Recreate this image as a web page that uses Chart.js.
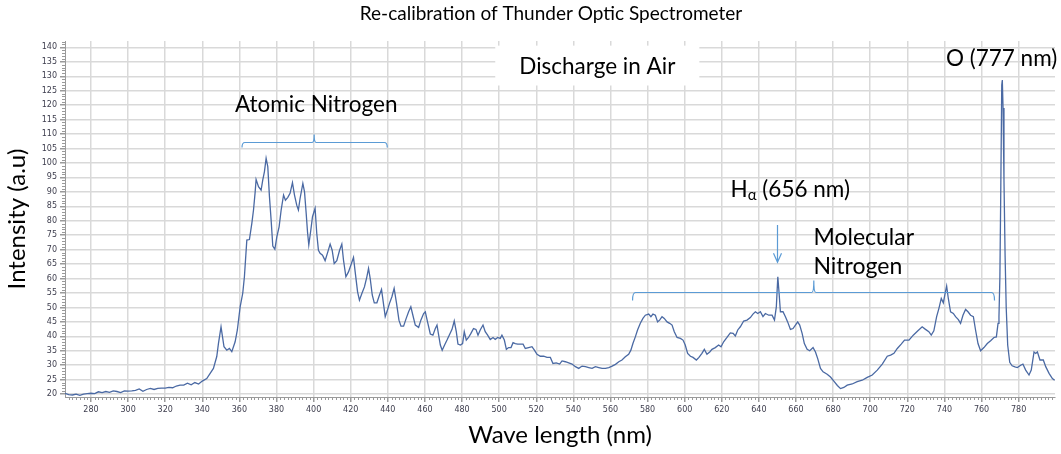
<!DOCTYPE html>
<html>
<head>
<meta charset="utf-8">
<script src="https://cdn.jsdelivr.net/npm/chart.js@4.4.1/dist/chart.umd.min.js"></script>
<style>
  html, body { margin: 0; padding: 0; background: #fff; }
</style>
</head>
<body>
<canvas id="chart" width="1061" height="454"></canvas>
<script>
// wavelength (nm)
var wavelength = [
  266,268,270,272,274,276,278,280,282,284,286,288,290,292,294,296,298,300,302,304,
  306,308,310,312,314,316,318,320,322,324,326,328,330,332,334,336,338,340,342.4,346,
  347.8,348.7,350.1,351.7,353.2,354.6,355.9,357.7,358.9,360.4,361.8,362.7,364,365.4,366.7,367.6,368.5,369,370.3,371.7,
  372.6,373.5,374.4,375.3,376.2,377.1,378,379.1,380.2,381.4,382.5,383.8,384.8,386.1,387.3,388.6,389.7,390.9,391.8,392.7,
  394.2,395.1,396,396.7,397.4,398.5,399.4,400.8,401.7,402.6,403.5,404.8,406.2,407.7,408.9,410,411.1,412.5,414,415.2,
  416.1,417.4,418.8,420.1,421.5,422.4,423.7,424.7,426,427.4,428.7,429.6,430.5,431.6,432.7,434.1,435.5,436.6,437.5,438.6,
  439.8,440.9,442.2,443.4,444.7,446,447.1,448.5,449.9,451.2,452.4,453.5,454.8,456.6,457.8,459.3,460.2,461.4,462.9,464.3,
  465.6,466.5,467.4,468.3,469.3,470.6,471.9,473.1,474.6,475.8,476.9,477.8,479.1,480.3,481.2,482.3,483.5,484.8,486.2,487.5,
  488.6,489.8,491.3,492.5,493.8,495.2,496.7,497.9,499.2,500.6,501.5,502.8,503.9,505.1,506.4,507.5,508.7,510,511.4,512.9,
  514.1,515.9,517.7,519,520.4,522.2,524,525.8,527.6,529,530.8,532.6,533.9,535.7,537.5,539.3,541.1,542.9,544.7,546.5,
  548.3,550.1,551.9,553.7,555.5,557.3,559.1,560.9,562.7,564.5,566.2,568,569.8,571,572.1,573.4,574.6,576.1,577.5,578.8,
  580.6,581.8,582.9,584.2,585.4,586.5,587.8,589,590.5,591.9,593.2,594.4,595.9,597.7,599.1,600.3,601.6,603.1,604.5,606.3,
  607.7,609.3,610.6,612,613.5,614.7,616.5,618.3,619.6,621,622.8,624.6,626.1,627.3,628.6,630,631.8,633.6,635.4,636.8,
  638.1,639.4,640.8,642.2,643.5,645.3,647.1,648.4,649.4,650.2,650.9,651.6,653,654.3,655.5,657,658.4,659.7,660.9,662,
  663.3,664.5,666,667.4,669.2,670.5,671.7,673.2,674.6,676.8,678.6,680.4,682.3,684,685.8,687.6,690.3,693,695.7,698.4,
  701.1,703.8,706.5,709.2,711,712.8,714.6,716.7,718.5,720.9,723.2,725.7,728,729.8,731.6,732.9,734.3,735.8,737,738.3,
  739.4,740.3,741.2,742.1,743.3,744.8,746,747.5,748.7,750,751.4,752.7,754.1,755.6,756.8,758.1,759.5,761.3,763.1,764.9,
  766.7,768,768.9,769.4,769.9,770.4,770.9,771.2,771.6,772.1,772.7,773.3,774.1,775.2,776.5,778,779.3,781.1,782.3,783.8,
  785.6,786.8,788.3,789.2,790.1,791.5,793.3,794.6,796.4,798.2,799.4
];

// intensity (a.u) at each wavelength
var intensity = [
  20.3,19.8,19.7,20.0,19.6,20.0,20.2,20.3,20.2,20.8,20.5,20.9,20.6,21.1,20.9,20.5,21.1,21.0,21.1,21.3,
  21.8,21.0,21.6,22.0,21.6,22.0,22.1,22.1,22.3,22.2,22.8,23.1,23.1,23.8,23.2,24.0,23.5,24.5,25.4,28.9,
  33.0,37.5,43.3,36.4,35.2,35.8,34.7,38.1,42.2,50.2,54.9,60.6,73.3,73.5,79.1,83.7,90.0,94.3,91.8,90.6,
  94.1,97.0,101.6,98.7,88.3,80.2,71.2,70.1,74.5,77.9,83.7,88.9,87.1,88.1,89.5,93.2,88.9,85.4,83.7,87.7,
  92.9,90.0,82.5,76.2,71.6,76.8,81.4,84.3,75.6,69.8,68.7,68.1,66.2,69.3,71.9,69.8,65.2,66.2,69.8,71.9,
  66.4,60.6,62.3,64.7,67.3,62.3,55.4,52.5,54.8,57.1,60.6,63.5,60.0,54.3,51.6,51.6,54.3,56.2,52.0,46.8,
  49.1,51.4,53.7,56.6,51.4,45.6,43.5,43.5,46.2,48.5,50.2,47.3,43.9,43.1,45.6,47.9,48.5,45.0,40.8,40.4,
  42.7,43.9,40.4,37.0,35.2,37.0,38.7,40.4,42.4,45.3,41.6,37.3,37.0,37.5,41.6,38.7,39.6,41.0,42.7,42.4,
  40.4,42.2,43.9,41.6,40.4,38.9,39.6,38.9,39.6,39.3,40.4,38.7,35.5,36.1,36.1,37.8,37.5,37.3,37.3,37.3,
  35.8,36.1,36.4,35.2,33.8,33.1,33.1,32.7,32.7,30.6,30.8,30.4,31.5,31.2,30.8,30.4,29.5,28.9,29.7,29.5,
  29.2,28.9,29.5,29.2,28.9,28.9,29.2,29.7,30.3,31.2,31.8,32.9,33.8,35.2,37.5,39.8,42.2,44.5,46.2,47.3,
  47.7,46.8,47.7,47.3,45.0,45.6,46.8,46.2,45.0,44.5,43.9,41.6,39.6,39.3,38.7,37.0,34.1,33.1,32.7,31.8,
  32.7,34.1,35.5,33.8,34.6,35.5,36.1,37.0,36.4,38.1,39.6,41.2,41.0,40.1,42.2,43.3,45.3,45.6,46.5,47.7,
  48.5,47.9,48.5,46.8,47.9,47.3,47.3,45.6,50.2,60.6,54.8,48.5,48.5,46.8,45.0,42.4,42.7,43.9,45.0,43.9,
  41.0,37.5,35.5,35.0,36.1,34.6,32.3,28.9,27.7,26.9,25.9,24.5,23.0,21.9,22.3,23.1,23.5,24.3,24.8,25.8,
  26.6,28.3,30.4,33.1,33.5,34.1,35.8,37.3,38.7,38.7,40.4,41.9,43.3,42.4,41.6,40.4,41.9,46.8,49.6,53.1,
  51.6,54.6,57.4,53.1,48.5,47.9,46.8,45.8,44.5,47.3,49.3,48.5,47.3,46.8,42.1,37.5,35.0,36.1,37.5,38.5,
  39.6,39.8,44.5,46.8,60.6,92.0,127.0,128.7,119.0,94.0,68.0,50.0,37.0,31.0,29.8,29.4,29.2,30.0,30.4,28.3,
  26.6,28.3,34.6,34.1,34.6,31.8,31.8,29.5,27.2,25.4,24.8
];

var xTicks = [280,300,320,340,360,380,400,420,440,460,480,500,520,540,560,580,600,620,640,660,680,700,720,740,760,780];
var yTicks = [20,25,30,35,40,45,50,55,60,65,70,75,80,85,90,95,100,105,110,115,120,125,130,135,140];

var points = wavelength.map(function (w, i) { return { x: w, y: intensity[i] }; });

var textFont = 'Lato, "Open Sans", sans-serif';
var noteBlue = '#5b9bd5';

// brackets / notes placed in data units (nm, a.u)
var atomicBracket = { from: 361.4, to: 439.7, mid: 400.3, at: 107.1, hook: 5, rise: 8 };
var molecularBracket = { from: 571.9, to: 767.0, mid: 669.6, at: 55.2, hook: 8, rise: 12 };
var alphaArrow = { at: 650.0, top: 78.5, tip: 65.6 };

var minorTicks = {
  id: 'minorTicks',
  afterDraw: function (chart) {
    var ctx = chart.ctx, a = chart.chartArea;
    var xs = chart.scales.x, ys = chart.scales.y;
    ctx.save();
    ctx.strokeStyle = '#9a9a9a';
    ctx.lineWidth = 1;
    ctx.beginPath();
    for (var v = 20; v <= 142; v++) {
      if (v % 5 === 0) continue;
      var py = Math.round(ys.getPixelForValue(v)) + 0.5;
      ctx.moveTo(a.left - 3, py); ctx.lineTo(a.left, py);
    }
    for (var w = 268; w <= 798; w += 2) {
      if (w % 20 === 0) continue;
      var px = Math.round(xs.getPixelForValue(w)) + 0.5;
      ctx.moveTo(px, a.bottom); ctx.lineTo(px, a.bottom + 3);
    }
    ctx.stroke();
    ctx.restore();
  }
};

function drawBracket(ctx, xs, ys, b) {
  var l = xs.getPixelForValue(b.from), r = xs.getPixelForValue(b.to);
  var m = xs.getPixelForValue(b.mid), py = Math.round(ys.getPixelForValue(b.at)) + 0.5;
  ctx.beginPath();
  ctx.moveTo(l, py + b.hook);
  ctx.quadraticCurveTo(l, py, l + 3, py);
  ctx.lineTo(m - 2, py);
  ctx.quadraticCurveTo(m, py, m, py - b.rise);
  ctx.quadraticCurveTo(m, py, m + 2, py);
  ctx.lineTo(r - 3, py);
  ctx.quadraticCurveTo(r, py, r, py + b.hook);
  ctx.stroke();
}

var notes = {
  id: 'notes',
  afterDraw: function (chart) {
    var ctx = chart.ctx;
    var xs = chart.scales.x, ys = chart.scales.y;
    ctx.save();

    // chart title
    ctx.fillStyle = '#000';
    ctx.textBaseline = 'middle';
    ctx.textAlign = 'center';
    ctx.font = '19px ' + textFont;
    ctx.fillText('Re-calibration of Thunder Optic Spectrometer', 551, 14);

    // white box behind "Discharge in Air"
    var bx0 = xs.getPixelForValue(497.9), bx1 = xs.getPixelForValue(607.9);
    var by0 = ys.getPixelForValue(140.6), by1 = ys.getPixelForValue(126.8);
    ctx.fillStyle = '#ffffff';
    ctx.fillRect(bx0, by0, bx1 - bx0, by1 - by0);

    ctx.fillStyle = '#000';
    ctx.font = '22.5px ' + textFont;
    ctx.fillText('Discharge in Air', xs.getPixelForValue(552.9), ys.getPixelForValue(133.4));
    ctx.fillText('Atomic Nitrogen', xs.getPixelForValue(401.4), ys.getPixelForValue(120.0));
    ctx.fillText('O (777 nm)', xs.getPixelForValue(770.8), ys.getPixelForValue(136.0));

    ctx.textAlign = 'left';
    ctx.font = '23px ' + textFont;
    ctx.fillText('Molecular', xs.getPixelForValue(669.4), ys.getPixelForValue(74.3));
    ctx.fillText('Nitrogen', xs.getPixelForValue(669.4), ys.getPixelForValue(64.0));

    // H alpha with subscript
    var hx = xs.getPixelForValue(624.7), hy = ys.getPixelForValue(90.6);
    ctx.font = '22.5px ' + textFont;
    ctx.fillText('H', hx, hy);
    hx += ctx.measureText('H').width;
    ctx.font = '15px ' + textFont;
    ctx.fillText('\u03b1', hx, hy + 5);
    hx += ctx.measureText('\u03b1').width;
    ctx.font = '22.5px ' + textFont;
    ctx.fillText(' (656 nm)', hx, hy);

    ctx.strokeStyle = noteBlue;
    ctx.lineWidth = 1.2;
    drawBracket(ctx, xs, ys, atomicBracket);
    drawBracket(ctx, xs, ys, molecularBracket);

    // arrow pointing at H alpha line
    var ax = Math.round(xs.getPixelForValue(alphaArrow.at)) + 0.5;
    var at = ys.getPixelForValue(alphaArrow.top), ab = ys.getPixelForValue(alphaArrow.tip);
    ctx.beginPath();
    ctx.moveTo(ax, at); ctx.lineTo(ax, ab);
    ctx.moveTo(ax - 4, ab - 9); ctx.lineTo(ax, ab); ctx.lineTo(ax + 4, ab - 9);
    ctx.stroke();

    ctx.restore();
  }
};

var config = {
  type: 'line',
  data: {
    datasets: [{
      data: points,
      borderColor: '#4a69a3',
      borderWidth: 1.3,
      pointRadius: 0,
      tension: 0,
      fill: false
    }]
  },
  options: {
    responsive: false,
    animation: false,
    devicePixelRatio: 1,
    layout: { padding: { left: 0, right: 6, top: 41, bottom: 0 } },
    plugins: {
      legend: { display: false },
      tooltip: { enabled: false },
      title: { display: false }
    },
    scales: {
      x: {
        type: 'linear',
        min: 266,
        max: 799.6,
        afterBuildTicks: function (s) { s.ticks = xTicks.map(function (v) { return { value: v }; }); },
        afterFit: function (s) { s.height = 57; },
        grid: { color: '#d9d9d9', lineWidth: 1.5, tickLength: 5, tickColor: '#9a9a9a' },
        border: { color: '#9a9a9a', width: 1 },
        ticks: { color: '#3d3d4d', font: { family: 'DejaVu Sans', size: 8 }, padding: 3, maxRotation: 0, autoSkip: false },
        title: {
          display: true,
          text: 'Wave length (nm)',
          color: '#000',
          font: { family: textFont, size: 24 },
          padding: { top: 4, bottom: 4 }
        }
      },
      y: {
        min: 19,
        max: 142.2,
        afterBuildTicks: function (s) { s.ticks = yTicks.map(function (v) { return { value: v }; }); },
        afterFit: function (s) { s.width = 65; },
        grid: { color: '#d9d9d9', lineWidth: 1.5, tickLength: 5, tickColor: '#9a9a9a' },
        border: { color: '#9a9a9a', width: 1 },
        ticks: { color: '#3d3d4d', font: { family: 'DejaVu Sans', size: 8 }, padding: 3, autoSkip: false },
        title: {
          display: true,
          text: 'Intensity (a.u)',
          color: '#000',
          font: { family: textFont, size: 24 },
          padding: { top: 3, bottom: 3 }
        }
      }
    }
  },
  plugins: [minorTicks, notes]
};

window.onload = function () {
  var ctx = document.getElementById('chart').getContext('2d');
  window.spectrumChart = new Chart(ctx, config);
};
</script>
</body>
</html>
